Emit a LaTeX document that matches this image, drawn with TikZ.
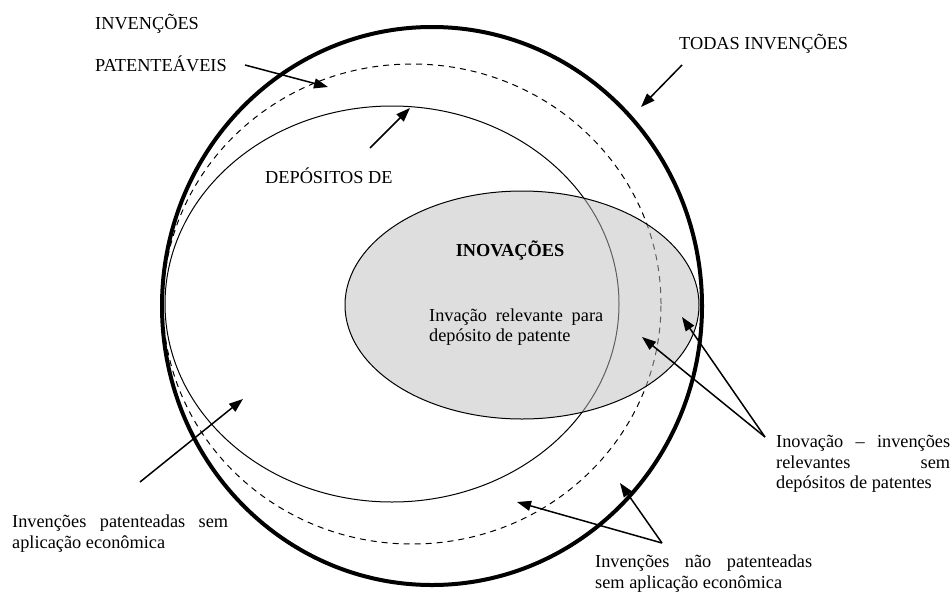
\documentclass[tikz,border=0pt]{standalone}
\usepackage{fontspec}
\setmainfont{Liberation Serif}
\usetikzlibrary{arrows.meta}

\tikzset{
    txt/.style={inner sep=0pt, font=\fontsize{18.3pt}{20.5pt}\selectfont},
    para/.style={txt, anchor=north west, align=justify, text width=#1},
    seta/.style={line width=1.5pt, -{Triangle[length=14pt,width=10pt]}},
}

\begin{document}
\begin{tikzpicture}[x=1pt,y=-1pt]
    \useasboundingbox (0,0) rectangle (952,592);
    \draw[line width=4pt] (432,306) ellipse [x radius=270pt, y radius=279pt]; % todas
    \draw[line width=1pt, dash pattern=on 6pt off 5pt] (412,304) ellipse [x radius=249pt, y radius=240pt]; % patenteaveis
    \draw[line width=1pt] (392,304) ellipse [x radius=227pt, y radius=198pt]; % depositos
    \fill[black!26, fill opacity=0.5] (522,305) ellipse [x radius=177pt, y radius=114pt]; % inovacoes
    \draw[line width=1pt] (522,305) ellipse [x radius=177pt, y radius=114pt];

    \node[txt, anchor=base west] (invencoes) at (95,29) {INVENÇÕES};
    \node[txt, anchor=base west] (patenteaveis) at (95,71) {PATENTEÁVEIS};
    \node[txt, anchor=base west] (depositos) at (265,183) {DEPÓSITOS DE};
    \node[txt, anchor=base west] (todas) at (679,49) {TODAS INVENÇÕES};
    \node[txt, anchor=base, font=\fontsize{18.3pt}{20.5pt}\selectfont\bfseries] (inovacoes) at (510,256) {INOVAÇÕES};
    \node[para=174pt] (relevante) at (429,308.5) {Invação relevante para\linebreak depósito de patente};
    \node[para=216pt] (patsemapl) at (12,515) {Invenções patenteadas sem\linebreak aplicação econômica};
    \node[para=174pt] (invsemdep) at (776,435) {Inovação – invenções\linebreak relevantes sem\linebreak depósitos de patentes};
    \node[para=217pt] (naopat) at (595,555) {Invenções não patenteadas\linebreak sem aplicação econômica};

    % setas
    \coordinate (pa) at (245,65);  \coordinate (pb) at (328,87);
    \coordinate (da) at (370,148); \coordinate (db) at (410,108);
    \coordinate (ta) at (682,65);  \coordinate (tb) at (641,107);
    \coordinate (sa) at (140,482); \coordinate (sb) at (243,399);
    \coordinate (ia) at (765,437); \coordinate (ib) at (682,317); \coordinate (ic) at (642,337);
    \coordinate (na) at (662,543); \coordinate (nb) at (517,502); \coordinate (nc) at (620,483);
    \draw[seta] (pa) -- (pb);
    \draw[seta] (da) -- (db);
    \draw[seta] (ta) -- (tb);
    \draw[seta] (sa) -- (sb);
    \draw[seta] (ia) -- (ib);
    \draw[seta] (ia) -- (ic);
    \draw[seta] (na) -- (nb);
    \draw[seta] (na) -- (nc);
\end{tikzpicture}
\end{document}
